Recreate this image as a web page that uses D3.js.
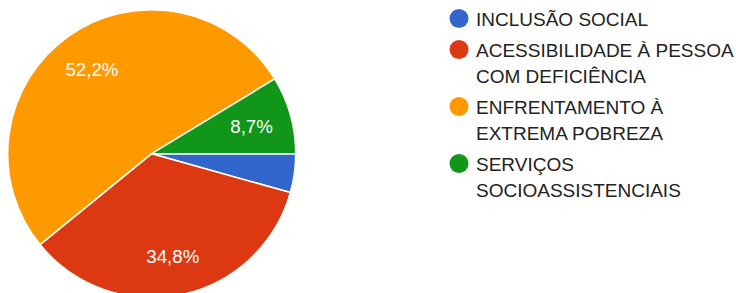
<!DOCTYPE html>
<html>
<head>
<meta charset="utf-8">
<script src="https://cdn.jsdelivr.net/npm/d3@7.9.0/dist/d3.min.js"></script>
<style>
  html, body { margin: 0; padding: 0; background: #fff; }
  svg { display: block; font-family: Arial, "Liberation Sans", sans-serif; }
</style>
</head>
<body>
<svg id="chart" width="736" height="293"></svg>
<script>
// categories and answer counts (23 answers)
const categories = [
  "INCLUSÃO SOCIAL",
  "ACESSIBILIDADE À PESSOA COM DEFICIÊNCIA",
  "ENFRENTAMENTO À EXTREMA POBREZA",
  "SERVIÇOS SOCIOASSISTENCIAIS"
];
const counts = [1, 8, 12, 2];
const colorList = ["#3366cc", "#dc3912", "#ff9900", "#109618"];

const svg = d3.select("#chart");
const cx = 151.7, cy = 153.7, radius = 144;

const data = categories.map((c, i) => ({ label: c, value: counts[i] }));
const total = d3.sum(counts);

// pie starts at 3 o'clock and goes clockwise
const pie = d3.pie().value(d => d.value).sort(null)
  .startAngle(Math.PI / 2).endAngle(Math.PI / 2 + 2 * Math.PI);
const arcData = pie(data);
const arc = d3.arc().innerRadius(0).outerRadius(radius);
const labelArc = d3.arc().innerRadius(radius * 0.72).outerRadius(radius * 0.72);
const color = d3.scaleOrdinal().domain(categories).range(colorList);

const g = svg.append("g").attr("transform", `translate(${cx},${cy})`);

g.selectAll("path")
  .data(arcData)
  .join("path")
  .attr("d", arc)
  .attr("fill", d => color(d.data.label))
  .attr("stroke", "#fff")
  .attr("stroke-width", 1.5);

const fmt = v => (v / total * 100).toFixed(1).replace(".", ",") + "%";

// only label slices big enough
g.selectAll("text.pct")
  .data(arcData.filter(d => d.data.value / total > 0.05))
  .join("text")
  .attr("class", "pct")
  .attr("transform", d => `translate(${labelArc.centroid(d)})`)
  .attr("text-anchor", "middle")
  .attr("dy", "0.4em")
  .attr("fill", "#fff")
  .style("font-size", "18.7px")
  .text(d => fmt(d.data.value));

// legend
const legendX = 459, textX = 476, maxW = 736 - textX, lineH = 26, gap = 5;
let y = 18.5;
data.forEach(d => {
  const item = svg.append("g");
  item.append("circle")
    .attr("cx", legendX).attr("cy", y).attr("r", 9.5)
    .attr("fill", color(d.label));
  const text = item.append("text")
    .attr("x", textX)
    .attr("fill", "#222")
    .style("font-size", "19px");
  // simple word wrapping
  const words = d.label.split(" ");
  let line = [];
  let lines = 0;
  let tspan = text.append("tspan").attr("x", textX).attr("y", y + 7.5);
  words.forEach(w => {
    line.push(w);
    tspan.text(line.join(" "));
    if (tspan.node().getComputedTextLength() > maxW && line.length > 1) {
      line.pop();
      tspan.text(line.join(" "));
      line = [w];
      lines++;
      tspan = text.append("tspan").attr("x", textX)
        .attr("y", y + 7.5 + lines * lineH).text(w);
    }
  });
  y += (lines + 1) * lineH + gap;
});
</script>
</body>
</html>
